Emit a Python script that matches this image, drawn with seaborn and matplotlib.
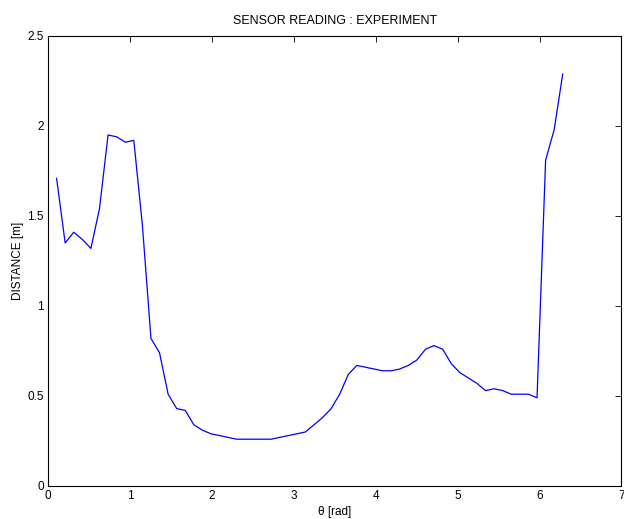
import numpy as np
import pandas as pd
import seaborn as sns
import matplotlib
matplotlib.use("Agg")
import matplotlib.pyplot as plt

sns.set_style("white")
plt.rcParams['font.family'] = ['Liberation Sans', 'DejaVu Sans']
plt.rcParams['text.color'] = 'black'
plt.rcParams['axes.labelcolor'] = 'black'

# sample index k, theta = k * pi / 30
k = np.arange(1, 61)
theta = k * np.pi / 30
distance = [1.71, 1.35, 1.41, 1.37, 1.32, 1.54, 1.95, 1.94, 1.91, 1.92,
            1.45, 0.82, 0.74, 0.51, 0.43, 0.42, 0.34, 0.31, 0.29, 0.28,
            0.27, 0.26, 0.26, 0.26, 0.26, 0.26, 0.27, 0.28, 0.29, 0.30,
            0.34, 0.38, 0.43, 0.51, 0.62, 0.67, 0.66, 0.65, 0.64, 0.64,
            0.65, 0.67, 0.70, 0.76, 0.78, 0.76, 0.68, 0.63, 0.60, 0.57,
            0.53, 0.54, 0.53, 0.51, 0.51, 0.51, 0.49, 1.81, 1.98, 2.29]

df = pd.DataFrame({"theta": theta, "distance": distance})

fig = plt.figure(figsize=(6.24, 5.19), dpi=100)
ax = fig.add_axes([48/624, 33/519, 573.5/624, 450/519])
sns.lineplot(data=df, x="theta", y="distance", color=(0, 0, 1), lw=0.9, ax=ax)

ax.set_xlim(0, 7)
ax.set_ylim(0, 2.5)
ax.set_xticks(range(0, 8))
ax.set_yticks([0, 0.5, 1, 1.5, 2, 2.5])
ax.set_yticklabels(["0", "0.5", "1", "1.5", "2", "2.5"])
ax.tick_params(direction="in", top=True, right=True, length=4, width=0.6,
               labelsize=8.5, colors="black", pad=3)
for s in ax.spines.values():
    s.set_color("black")
    s.set_linewidth(0.8)
ax.set_xlabel("θ [rad]", fontsize=8.5, labelpad=2.5)
ax.set_ylabel("DISTANCE [m]", fontsize=8.5, labelpad=2.5)
ax.set_title("SENSOR READING : EXPERIMENT", fontsize=9, pad=9)

fig.savefig("out.png", dpi=100)
